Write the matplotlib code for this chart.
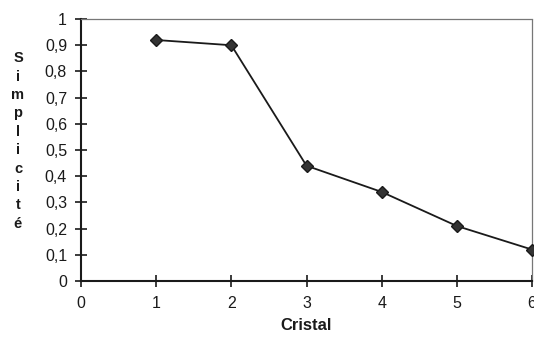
import matplotlib
matplotlib.use("Agg")
import matplotlib.pyplot as plt
from matplotlib.ticker import FuncFormatter

crystals = [1, 2, 3, 4, 5, 6]
simplicity = [0.92, 0.90, 0.44, 0.34, 0.21, 0.12]
x_ticks = [0, 1, 2, 3, 4, 5, 6]
y_ticks = [0, 0.1, 0.2, 0.3, 0.4, 0.5, 0.6, 0.7, 0.8, 0.9, 1.0]

plt.rcParams['font.family'] = ['Liberation Sans', 'DejaVu Sans']

fig = plt.figure(figsize=(5.34, 3.40), dpi=100)
ax = fig.add_axes([0.1517, 0.1735, 0.8446, 0.7705])

ax.plot(crystals, simplicity, color='#1a1a1a', lw=1.3, marker='D', ms=6.5,
        markerfacecolor='#333333', markeredgecolor='#1a1a1a', clip_on=False, zorder=3)

ax.set_xlim(0, 6)
ax.set_ylim(0, 1)
ax.set_xticks(x_ticks)
ax.set_yticks(y_ticks)
fmt = FuncFormatter(lambda v, p: ('%g' % round(v, 1)).replace('.', ','))
ax.yaxis.set_major_formatter(fmt)
ax.xaxis.set_major_formatter(fmt)
ax.tick_params(direction='inout', length=8, width=1.2, labelsize=11.5, colors='#1a1a1a', pad=7)
ax.tick_params(axis='y', pad=6)

for s in ['left', 'bottom']:
    ax.spines[s].set_linewidth(1.5)
    ax.spines[s].set_color('#1a1a1a')
for s in ['top', 'right']:
    ax.spines[s].set_linewidth(0.9)
    ax.spines[s].set_color('#777777')
    ax.spines[s].set_linestyle((0, (2, 1)))

ax.set_xlabel('Cristal', fontsize=12, fontweight='bold', color='#1a1a1a', labelpad=5)
fig.text(18 / 534, 1 - 141 / 340, '\n'.join('Simplicité'), ha='center', va='center',
         fontsize=10.5, fontweight='bold', color='#1a1a1a', linespacing=1.40)

fig.savefig('out.png', dpi=100, facecolor='white')
